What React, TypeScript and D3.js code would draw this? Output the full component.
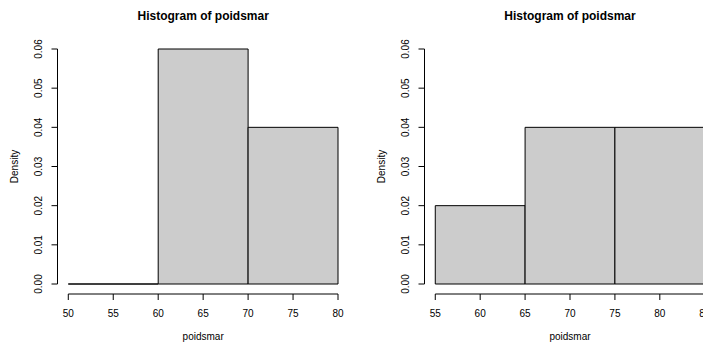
import React from "react";
import * as d3 from "d3";

const title = "Histogram of poidsmar";
const xLabel = "poidsmar";
const yLabel = "Density";

const leftBreaks = [50, 60, 70, 80];
const leftDensity = [0, 0.06, 0.04];
const leftXTicks = [50, 55, 60, 65, 70, 75, 80];

const rightBreaks = [55, 65, 75, 85];
const rightDensity = [0.02, 0.04, 0.04];
const rightXTicks = [55, 60, 65, 70, 75, 80, 85];

const yTicks = [0, 0.01, 0.02, 0.03, 0.04, 0.05, 0.06];

const W = 703;
const H = 345;
const FONT = "'Liberation Sans', Arial, Helvetica, sans-serif";

type PanelProps = {
  breaks: number[];
  density: number[];
  xTicks: number[];
  left: number;
  right: number;
};

function Panel({ breaks, density, xTicks, left, right }: PanelProps) {
  const top = 39.6;
  const bottom = 293.4;
  const lo = breaks[0];
  const hi = breaks[breaks.length - 1];
  const ext = (hi - lo) * 0.04;
  const x = d3.scaleLinear().domain([lo - ext, hi + ext]).range([left, right]);
  const yExt = 0.06 * 0.04;
  const y = d3.scaleLinear().domain([-yExt, 0.06 + yExt]).range([bottom, top]);
  const tick = 6;
  const cx = (left + right) / 2;
  const cy = (top + bottom) / 2;
  const bins = density.map((d, i) => ({ x0: breaks[i], x1: breaks[i + 1], d }));
  return (
    <g>
      <text x={cx} y={19.5} textAnchor="middle" fontWeight="bold" fontSize={12} fontFamily={FONT} fill="#000">
        {title}
      </text>
      {bins.map((b, i) => {
        const p = d3.path();
        p.moveTo(x(b.x0), y(0));
        p.lineTo(x(b.x0), y(b.d));
        p.lineTo(x(b.x1), y(b.d));
        p.lineTo(x(b.x1), y(0));
        p.closePath();
        return <path key={i} d={p.toString()} fill="#cccccc" stroke="#000" strokeWidth={1} />;
      })}
      {/* y axis */}
      <line x1={left} x2={left} y1={y(0)} y2={y(0.06)} stroke="#000" strokeWidth={1} />
      {yTicks.map((t) => (
        <g key={t}>
          <line x1={left - tick} x2={left} y1={y(t)} y2={y(t)} stroke="#000" strokeWidth={1} />
          <text
            transform={`translate(${left - 15.3},${y(t)}) rotate(-90)`}
            textAnchor="middle"
            fontSize={10}
            fontFamily={FONT}
            fill="#000"
          >
            {t.toFixed(2)}
          </text>
        </g>
      ))}
      {/* x axis */}
      <line x1={x(xTicks[0])} x2={x(xTicks[xTicks.length - 1])} y1={bottom + 0.6} y2={bottom + 0.6} stroke="#000" strokeWidth={1} />
      {xTicks.map((t) => (
        <g key={t}>
          <line x1={x(t)} x2={x(t)} y1={bottom + 0.6} y2={bottom + 0.6 + tick} stroke="#000" strokeWidth={1} />
          <text x={x(t)} y={316.7} textAnchor="middle" fontSize={10} fontFamily={FONT} fill="#000">
            {String(t)}
          </text>
        </g>
      ))}
      <text x={cx} y={339.5} textAnchor="middle" fontSize={10} fontFamily={FONT} fill="#000">
        {xLabel}
      </text>
      <text
        transform={`translate(${left - 39.3},${cy}) rotate(-90)`}
        textAnchor="middle"
        fontSize={10}
        fontFamily={FONT}
        fill="#000"
      >
        {yLabel}
      </text>
    </g>
  );
}

export default function App() {
  return (
    <svg
      width={W}
      height={H}
      viewBox={`0 0 ${W} ${H}`}
      style={{ position: "fixed", left: 0, top: 0, background: "#fff", display: "block" }}
    >
      <rect x={0} y={0} width={W} height={H} fill="#fff" />
      <Panel breaks={leftBreaks} density={leftDensity} xTicks={leftXTicks} left={57.5} right={348.8} />
      <Panel breaks={rightBreaks} density={rightDensity} xTicks={rightXTicks} left={424.5} right={715.5} />
    </svg>
  );
}
